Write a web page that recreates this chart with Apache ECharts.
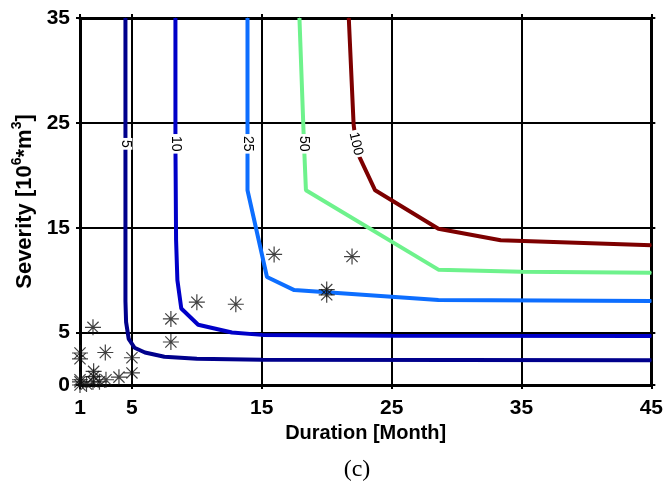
<!DOCTYPE html>
<html><head><meta charset="utf-8">
<script src="https://cdn.jsdelivr.net/npm/echarts@6/dist/echarts.min.js"></script>
<style>html,body{margin:0;padding:0;background:#fff}#c{width:666px;height:493px}</style>
</head><body><div id="c"></div>
<script>
// Tick labels
const xTicks = [1, 5, 15, 25, 35, 45];
const yTicks = [0, 5, 15, 25, 35];

// Contour curves (duration, severity); one point per curve carries the contour label
const contourNames = ['5', '10', '25', '50', '100'];
const c5X   = [4.5, 4.5, 4.5, 4.55, 4.75, 5.2, 6.0, 7.5, 10, 15, 45];
const c5Y   = [35, 23, 8, 6, 4.4, 3.55, 3.1, 2.7, 2.5, 2.4, 2.35];
const c10X  = [8.35, 8.35, 8.4, 8.5, 8.8, 10.1, 12.7, 15, 25, 45];
const c10Y  = [35, 23, 13.8, 10, 7.3, 5.75, 5.0, 4.78, 4.7, 4.67];
const c25X  = [13.9, 13.9, 13.9, 15.4, 17.5, 28.6, 45];
const c25Y  = [35, 23, 18.57, 10.3, 9.05, 8.1, 8.0];
const c50X  = [17.9, 18.25, 18.4, 28.6, 35, 45];
const c50Y  = [35, 23, 18.57, 11.0, 10.8, 10.7];
const c100X = [21.7, 22.07, 22.25, 22.4, 23.73, 28.6, 33.4, 45];
const c100Y = [35, 24.9, 23, 22.06, 18.57, 14.9, 13.8, 13.33];
const labelIndex = [1, 1, 1, 1, 2];

// Observed events (duration, severity)
const obsX = [1, 1, 1.5, 2, 2.5, 1, 2.05, 2.05, 3, 4, 5, 5, 1, 1, 2.95, 2, 8, 8, 10, 13, 15.95, 20, 20, 21.95];
const obsY = [0, 0.3, 0.1, 0.3, 0.3, 0.5, 0.8, 1.3, 0.5, 0.75, 1.15, 2.6, 2.5, 3.05, 3.1, 5.5, 4.1, 6.3, 7.9, 7.7, 12.45, 9.1, 8.6, 12.25];

const curveXs = [c5X, c10X, c25X, c50X, c100X];
const curveYs = [c5Y, c10Y, c25Y, c50Y, c100Y];
const colors = ['#00008C', '#0000C8', '#0D6EFF', '#6EF28C', '#7D0000'];
const labelRot = [-90, -90, -90, -90, -77];

const series = curveXs.map((xs, k) => ({
  type: 'line',
  name: contourNames[k],
  data: xs.map((x, i) => {
    const item = { value: [x, curveYs[k][i]] };
    if (i === labelIndex[k]) {
      item.label = {
        show: true, formatter: contourNames[k], position: 'inside', rotate: labelRot[k],
        color: '#000', fontSize: 14, fontFamily: 'Liberation Sans, Arial, sans-serif',
        backgroundColor: '#fff', padding: [0, 2]
      };
    }
    return item;
  }),
  showSymbol: true, showAllSymbol: true, symbol: 'circle', symbolSize: 1,
  itemStyle: { color: colors[k] },
  lineStyle: { color: colors[k], width: 4 },
  z: 3, silent: true
}));

series.push({
  type: 'scatter',
  data: obsX.map((x, i) => [x, obsY[i]]),
  symbol: 'path://M0,-10L0,10M-10,0L10,0M-7,-7L7,7M-7,7L7,-7',
  symbolSize: 16,
  itemStyle: { color: 'transparent', borderColor: '#111', borderWidth: 1.2 },
  z: 5, silent: true
});

const axisFont = { fontSize: 21, fontWeight: 'bold', color: '#000', fontFamily: 'Liberation Sans, Arial, sans-serif' };

const chart = echarts.init(document.getElementById('c'), null, { renderer: 'canvas' });
chart.setOption({
  animation: false,
  backgroundColor: '#fff',
  title: {
    text: '(c)', left: 352, top: 453, textAlign: 'center',
    textStyle: { fontFamily: 'Liberation Serif, DejaVu Serif, serif', fontSize: 24, fontWeight: 'normal', color: '#000' }
  },
  grid: { left: 80, right: 14, top: 18, bottom: 108 },
  xAxis: [{
    type: 'value', min: 1, max: 45, position: 'bottom',
    name: 'Duration [Month]', nameLocation: 'middle', nameGap: 38,
    nameTextStyle: { fontSize: 20, fontWeight: 'bold', color: '#000', fontFamily: 'Liberation Sans, Arial, sans-serif' },
    axisLine: { show: true, onZero: false, lineStyle: { color: '#000', width: 3 } },
    axisTick: { show: true, customValues: xTicks, length: 4, lineStyle: { color: '#000', width: 2 } },
    axisLabel: { customValues: xTicks, margin: 13, ...axisFont },
    splitLine: { show: true, lineStyle: { color: '#000', width: 2 } }
  }, {
    type: 'value', min: 1, max: 45, position: 'top',
    axisLine: { show: true, onZero: false, lineStyle: { color: '#000', width: 3 } },
    axisTick: { show: true, customValues: xTicks, length: 4, lineStyle: { color: '#000', width: 2 } },
    axisLabel: { show: false }, splitLine: { show: false }
  }],
  yAxis: [{
    type: 'value', min: 0, max: 35, position: 'left',
    name: '{a|Severity [10}{s|6}{a|*m}{s|3}{a|]}', nameLocation: 'middle', nameGap: 40,
    nameTextStyle: {
      rich: {
        a: { fontSize: 22, fontWeight: 'bold', color: '#000', fontFamily: 'Liberation Sans, Arial, sans-serif', lineHeight: 26, verticalAlign: 'bottom' },
        s: { fontSize: 14, fontWeight: 'bold', color: '#000', fontFamily: 'Liberation Sans, Arial, sans-serif', lineHeight: 26, verticalAlign: 'top' }
      }
    },
    axisLine: { show: true, onZero: false, lineStyle: { color: '#000', width: 3 } },
    axisTick: { show: true, customValues: yTicks, length: 4, lineStyle: { color: '#000', width: 2 } },
    axisLabel: { customValues: yTicks, margin: 10, ...axisFont },
    splitLine: { show: true, lineStyle: { color: '#000', width: 2 } }
  }, {
    type: 'value', min: 0, max: 35, position: 'right',
    axisLine: { show: true, onZero: false, lineStyle: { color: '#000', width: 3 } },
    axisTick: { show: true, customValues: yTicks, length: 4, lineStyle: { color: '#000', width: 2 } },
    axisLabel: { show: false }, splitLine: { show: false }
  }],
  series: series
});
</script>
</body></html>
